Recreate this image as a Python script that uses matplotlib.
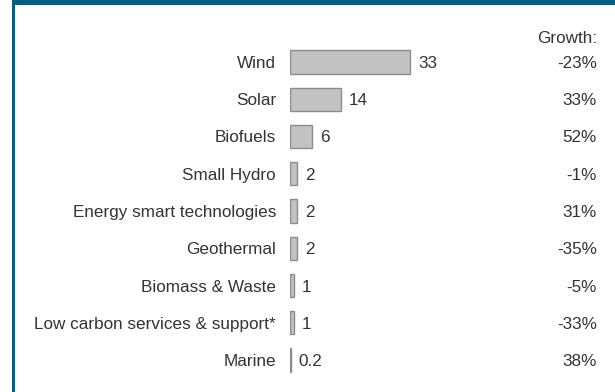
import matplotlib
matplotlib.use("Agg")
import matplotlib.pyplot as plt
from matplotlib.patches import Rectangle

plt.rcParams['font.family'] = ['Liberation Sans', 'DejaVu Sans']

categories = ["Wind", "Solar", "Biofuels", "Small Hydro", "Energy smart technologies",
              "Geothermal", "Biomass & Waste", "Low carbon services & support*", "Marine"]
values = [33, 14, 6, 2, 2, 2, 1, 1, 0.2]
value_labels = ["33", "14", "6", "2", "2", "2", "1", "1", "0.2"]
growth = ["-23%", "33%", "52%", "-1%", "31%", "-35%", "-5%", "-33%", "38%"]

W, H = 615, 392
fig = plt.figure(figsize=(W / 100, H / 100), dpi=100)
fig.patch.set_facecolor("white")

# frame: teal band on top and a line down the left side
teal = "#035e82"
fig.patches.append(Rectangle((12 / W, 0), 3 / W, 1, transform=fig.transFigure,
                             facecolor=teal, edgecolor="none", zorder=0))
fig.patches.append(Rectangle((12 / W, 1 - 5 / H), 1, 5 / H, transform=fig.transFigure,
                             facecolor=teal, edgecolor="none", zorder=0))

# bar area: x=0 at 290px, 3.64px per unit; rows 37.25px apart starting at 62px
px_per_unit = 3.64
row = 37.25
top = 62 - row / 2
left = 290
xmax = 88
ax = fig.add_axes([left / W, 1 - (top + 9 * row) / H, xmax * px_per_unit / W, 9 * row / H])
ax.set_xlim(0, xmax)
ax.set_ylim(8.5, -0.5)
ax.axis("off")

ypos = list(range(len(categories)))
ax.barh(ypos, values, height=0.62, color="#c2c2c2", edgecolor="#8c8c8c", linewidth=1.0)

txt = "#333333"
fs = 12.3
va = "center_baseline"
for y, cat, v, vl, g in zip(ypos, categories, values, value_labels, growth):
    ax.text(-14 / px_per_unit, y, cat, ha="right", va=va, fontsize=fs, color=txt, clip_on=False)
    ax.text(v + 8 / px_per_unit, y, vl, ha="left", va=va, fontsize=fs, color=txt)
    ax.text((597 - left) / px_per_unit, y, g, ha="right", va=va, fontsize=fs, color=txt,
            clip_on=False)

ax.text((597 - left) / px_per_unit, -0.68, "Growth:", ha="right", va=va, fontsize=fs,
        color=txt, clip_on=False)

fig.savefig("out.png", dpi=100)
